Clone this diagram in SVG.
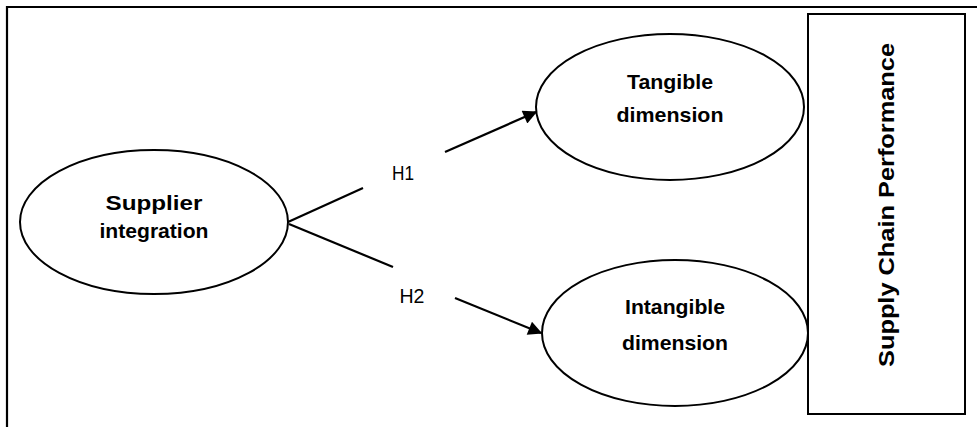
<svg xmlns="http://www.w3.org/2000/svg" width="977" height="427" viewBox="0 0 977 427">
<defs>
<style>
.frame{fill:none;stroke:#000;stroke-width:2.2}
.node{fill:#fff;stroke:#000;stroke-width:2}
.lbl{font-family:"Liberation Sans Narrow","Liberation Sans",Arial,sans-serif;font-weight:bold;font-size:21px;fill:#000;text-anchor:middle}
.hl{font-family:"Liberation Sans Narrow","Liberation Sans",Arial,sans-serif;font-size:21px;fill:#000;text-anchor:middle}
.conn{fill:none;stroke:#000;stroke-width:2.2}
.big{font-family:"Liberation Sans",Arial,sans-serif;font-weight:bold;font-size:22px;fill:#000;text-anchor:middle}
</style>
<marker id="arrow" viewBox="0 0 10 10" refX="9" refY="5" markerWidth="16" markerHeight="14" markerUnits="userSpaceOnUse" orient="auto">
<path d="M0,0 L10,5 L0,10 z" fill="#000"/>
</marker>
</defs>
<rect width="977" height="427" fill="#fff"/>
<g id="frame">
<path class="frame" d="M7,427 V7 H977"/>
</g>
<g id="performance">
<rect class="node" x="808" y="14" width="157" height="400"/>
<text class="big" transform="translate(894,205) rotate(-90)" textLength="324" lengthAdjust="spacingAndGlyphs">Supply Chain Performance</text>
</g>
<g id="supplier">
<ellipse class="node" cx="154" cy="222" rx="134" ry="72"/>
<text class="lbl" x="154" y="210" textLength="97" lengthAdjust="spacingAndGlyphs">Supplier</text>
<text class="lbl" x="154" y="238" textLength="109" lengthAdjust="spacingAndGlyphs">integration</text>
</g>
<g id="tangible">
<ellipse class="node" cx="670" cy="107" rx="134" ry="73"/>
<text class="lbl" x="670" y="89" textLength="86" lengthAdjust="spacingAndGlyphs">Tangible</text>
<text class="lbl" x="670" y="122" textLength="107" lengthAdjust="spacingAndGlyphs">dimension</text>
</g>
<g id="intangible">
<ellipse class="node" cx="675" cy="333" rx="133" ry="73"/>
<text class="lbl" x="675" y="314" textLength="100" lengthAdjust="spacingAndGlyphs">Intangible</text>
<text class="lbl" x="675" y="350" textLength="106" lengthAdjust="spacingAndGlyphs">dimension</text>
</g>
<g id="connectors">
<path class="conn" d="M288,222 L363,188"/>
<path class="conn" d="M289,224 L393,267"/>
<path class="conn" d="M445,152 L536,112" marker-end="url(#arrow)"/>
<path class="conn" d="M455,298 L541,333" marker-end="url(#arrow)"/>
<text class="hl" x="403" y="180" textLength="22" lengthAdjust="spacingAndGlyphs">H1</text>
<text class="hl" x="412" y="303" textLength="25" lengthAdjust="spacingAndGlyphs">H2</text>
</g>
</svg>
